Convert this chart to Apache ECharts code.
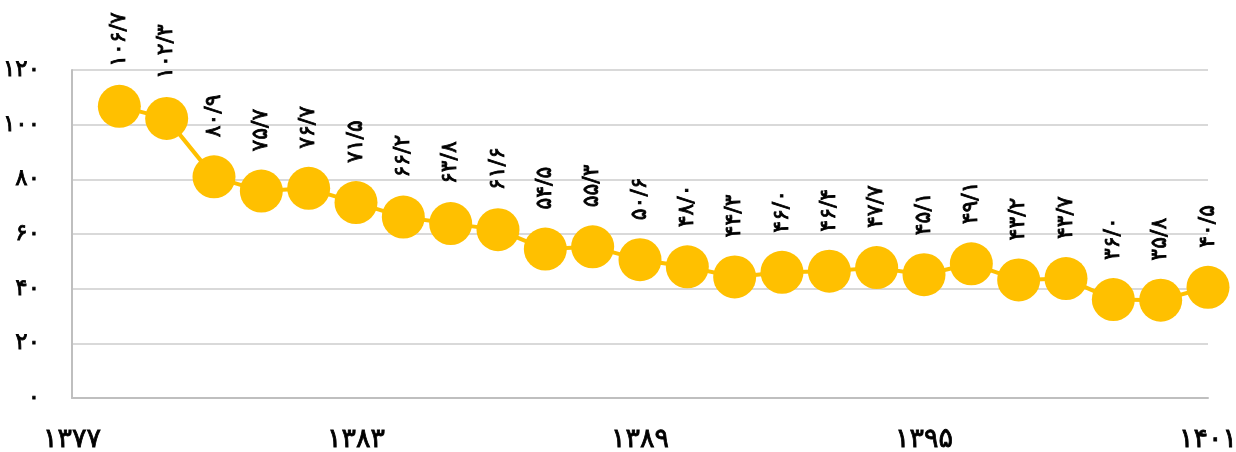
<!DOCTYPE html>
<html>
<head>
<meta charset="utf-8">
<script src="https://cdn.jsdelivr.net/npm/echarts@6/dist/echarts.min.js"></script>
<style>
html,body{margin:0;padding:0;background:#fff;}
#c{width:1236px;height:452px;}
</style>
</head>
<body>
<div id="c"></div>
<script>
const years = [1378,1379,1380,1381,1382,1383,1384,1385,1386,1387,1388,1389,1390,1391,1392,1393,1394,1395,1396,1397,1398,1399,1400,1401];
const values = [106.7,102.3,80.9,75.7,76.7,71.5,66.2,63.8,61.6,54.5,55.3,50.6,48.0,44.3,46.0,46.4,47.7,45.1,49.1,43.2,43.7,36.0,35.8,40.5];
const xTicks = [1377,1383,1389,1395,1401];
const yTicks = [0,20,40,60,80,100,120];

const fa = s => String(s).replace(/\d/g, d => '۰۱۲۳۴۵۶۷۸۹'[d]).replace('.', '/');
const FONT = 'DejaVu Sans';
const txt = {fontFamily: FONT, color: '#000', textBorderColor: '#000', textBorderWidth: 0.8};

const chart = echarts.init(document.getElementById('c'));
chart.setOption({
  animation: false,
  backgroundColor: '#fff',
  grid: {left: 72, right: 28, top: 70, bottom: 54, containLabel: false, outerBoundsMode: 'none'},
  xAxis: {
    type: 'value', min: 1377, max: 1401,
    axisLine: {show: true, lineStyle: {color: '#bfbfbf', width: 2}},
    axisTick: {show: false},
    splitLine: {show: false},
    axisLabel: Object.assign({customValues: xTicks, formatter: v => fa(v), margin: 28, fontSize: 27}, txt)
  },
  yAxis: {
    type: 'value', min: yTicks[0], max: yTicks[yTicks.length-1], interval: 20,
    axisLine: {show: true, lineStyle: {color: '#bfbfbf', width: 2}},
    axisTick: {show: false},
    splitLine: {show: true, lineStyle: {color: '#d9d9d9', width: 2}},
    axisLabel: Object.assign({formatter: v => fa(v), margin: 32, fontSize: 23}, txt)
  },
  series: [{
    type: 'line',
    data: years.map((y, i) => [y, values[i]]),
    symbol: 'circle', symbolSize: 43,
    itemStyle: {color: '#FFC000'},
    lineStyle: {color: '#FFC000', width: 4},
    label: Object.assign({
      show: true, position: 'top', distance: 18, rotate: 90,
      align: 'left', verticalAlign: 'middle',
      formatter: p => fa(p.value[1].toFixed(1)),
      fontSize: 22
    }, txt)
  }]
});
</script>
</body>
</html>
